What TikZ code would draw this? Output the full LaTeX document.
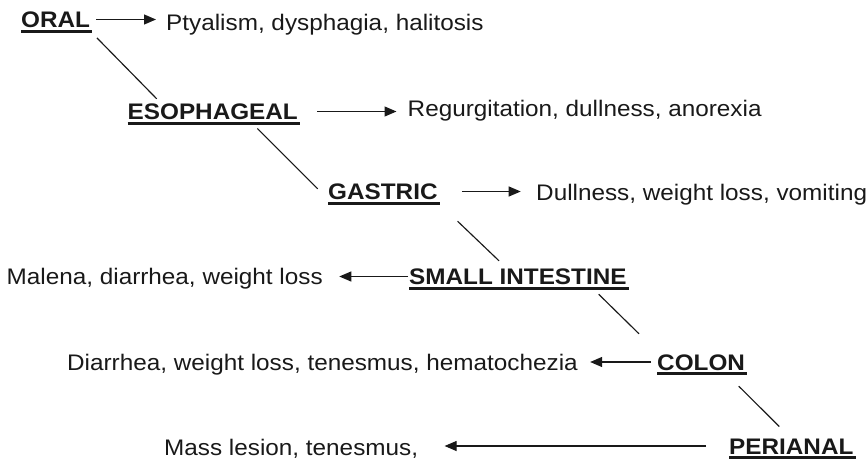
\documentclass[tikz,border=0pt]{standalone}
\usepackage{fontspec}
\setmainfont{Liberation Sans}[FakeStretch=1.08]
\usetikzlibrary{arrows.meta,calc}
\begin{document}
\begin{tikzpicture}[x=1pt,y=-1pt,
  every node/.style={inner sep=0pt, anchor=base west, text height=16pt, text depth=0pt,
    font=\fontsize{22.5}{27}\selectfont, text=black!90},
  lab/.style={font=\fontsize{22.5}{27}\selectfont\bfseries},
  conn/.style={line width=1.15pt, draw=black!90},
  arr/.style={conn, -{Triangle[length=12pt,width=10pt]}},
  ul/.style={line width=2.8pt, draw=black!90}]
\useasboundingbox (0,0) rectangle (867,460);
% labels
\node[lab] (oral)  at (21,27.5)   {ORAL};
\node[lab] (eso)   at (127.5,119.5) {ESOPHAGEAL};
\node[lab] (gas)   at (328,199.5) {GASTRIC};
\node[lab] (small) at (409,284.5) {SMALL INTESTINE};
\node[lab] (colon) at (657,370)   {COLON};
\node[lab] (peri)  at (729,454)   {PERIANAL};
% symptom texts
\node (t1) at (166,30.5)   {Ptyalism, dysphagia, halitosis};
\node (t2) at (407.5,116.5) {Regurgitation, dullness, anorexia};
\node (t3) at (536,200)    {Dullness, weight loss, vomiting};
\node (t4) at (6.5,284.5)  {Malena, diarrhea, weight loss};
\node (t5) at (67,370)     {Diarrhea, weight loss, tenesmus, hematochezia};
\node (t6) at (164,455)    {Mass lesion, tenesmus,};
% underlines
\foreach \n in {oral,eso,gas,small,colon,peri}
  \draw[ul] ($(\n.base west)+(0,3.8)$) -- ($(\n.base east)+(2,3.8)$);
% arrows
\draw[arr] ($(oral.east)+(6,0)$)     -- ($(t1.west |- oral.east)+(-10,0)$);
\draw[arr] ($(eso.east)+(19.4,0)$)   -- ($(t2.west |- eso.east)+(-11,0)$);
\draw[arr] ($(gas.east)+(24.2,0)$)   -- ($(t3.west |- gas.east)+(-15.3,0)$);
\draw[arr] ($(small.west)+(-1,0)$)   -- ($(t4.east |- small.west)+(16.3,0)$);
\draw[arr] ($(colon.west)+(-6,0)$)   -- ($(t5.east |- colon.west)+(12.2,0)$);
\draw[arr] ($(peri.west)+(-23,0)$)   -- ($(t6.east |- peri.west)+(26.3,0)$);
% diagonal connectors
\draw[conn] ($(oral.south east)+(6.7,10.2)$)  -- ($(eso.north west)+(29.2,-4.5)$);
\draw[conn] ($(eso.south east)+(-40.6,8.8)$)  -- ($(gas.north west)+(-10.3,5.5)$);
\draw[conn] ($(gas.south east)+(19.8,21.5)$)  -- ($(small.north west)+(90,-7.5)$);
\draw[conn] ($(small.south east)+(-28.1,9.5)$) -- ($(colon.north west)+(-18,-20)$);
\draw[conn] ($(colon.south east)+(-6.4,16)$)  -- ($(peri.north west)+(50.3,-11.3)$);
\end{tikzpicture}
\end{document}
